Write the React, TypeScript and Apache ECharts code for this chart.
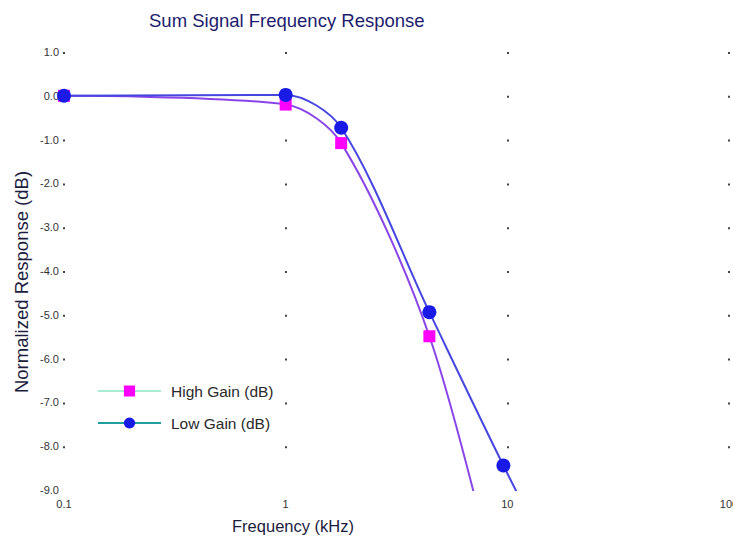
import React, { useEffect, useRef } from "react";
import * as echarts from "echarts";

const titleText = "Sum Signal Frequency Response";
const xAxisTitle = "Frequency (kHz)";
const yAxisTitle = "Normalized Response (dB)";
const seriesNames = ["High Gain (dB)", "Low Gain (dB)"];

const highGainFreq = [0.1, 1, 1.78, 4.45, 9.6];
const highGainDb = [0.0, -0.2, -1.08, -5.49, -11.8];

const lowGainFreq = [0.1, 1, 1.78, 4.45, 9.6, 20];
const lowGainDb = [0.0, 0.02, -0.73, -4.94, -8.44, -11.6];

const yMin = -9;
const yMax = 1;
const xMin = 0.1;
const xMax = 100;

export default function App() {
  const ref = useRef<HTMLDivElement>(null);

  useEffect(() => {
    if (!ref.current) return;
    const chart = echarts.init(ref.current, null, { renderer: "svg" });
    const font = "Liberation Sans, Arial, sans-serif";
    const highData = highGainFreq.map((f, i) => [f, highGainDb[i]]);
    const lowData = lowGainFreq.map((f, i) => [f, lowGainDb[i]]);
    chart.setOption({
      animation: false,
      backgroundColor: "#ffffff",
      textStyle: { fontFamily: font },
      title: {
        text: titleText,
        left: 144,
        top: 6,
        textStyle: { fontSize: 18.5, fontWeight: "normal", color: "#1c1c6e", fontFamily: font },
      },
      grid: {
        left: 64,
        right: 4,
        top: 52,
        bottom: 47,
        containLabel: false,
        outerBoundsMode: "none",
      },
      legend: {
        orient: "vertical",
        left: 92,
        top: 378,
        itemWidth: 63,
        itemHeight: 14,
        itemGap: 16,
        textStyle: { fontSize: 15.5, color: "#2a2a2a", fontFamily: font, padding: [0, 0, 0, 5] },
        data: [
          { name: seriesNames[0], lineStyle: { color: "#a8ecd4", width: 2 } },
          { name: seriesNames[1], lineStyle: { color: "#1f9e9e", width: 2 } },
        ],
      },
      xAxis: {
        type: "log",
        logBase: 10,
        min: xMin,
        max: xMax,
        axisLine: { show: false },
        axisTick: { show: false },
        axisLabel: {
          fontSize: 11,
          color: "#333",
          margin: 8,
          formatter: (v: number) => String(v),
        },
        splitLine: {
          show: true,
          lineStyle: { color: "#444", width: 2, type: [2, 41.8] },
        },
        minorTick: { show: false },
      },
      yAxis: {
        type: "value",
        min: yMin,
        max: yMax,
        interval: 1,
        axisLine: { show: false },
        axisTick: { show: false },
        axisLabel: {
          fontSize: 11,
          color: "#333",
          margin: 5,
          formatter: (v: number) => v.toFixed(1),
        },
        splitLine: { show: false },
      },
      graphic: [
        {
          type: "text",
          x: 293,
          y: 526,
          style: {
            text: xAxisTitle,
            fontSize: 16.5,
            fill: "#1c1c3e",
            fontFamily: font,
            align: "center",
            verticalAlign: "middle",
          },
        },
        {
          type: "text",
          x: 21,
          y: 282,
          rotation: Math.PI / 2,
          style: {
            text: yAxisTitle,
            fontSize: 18.5,
            fill: "#1c1c3e",
            fontFamily: font,
            align: "center",
            verticalAlign: "middle",
          },
        },
      ],
      series: [
        {
          name: seriesNames[0],
          type: "line",
          data: highData,
          smooth: 0.3,
          clip: true,
          symbol: "rect",
          symbolSize: 12,
          itemStyle: { color: "#ff00ff" },
          lineStyle: { color: "#8a45e8", width: 2 },
          z: 2,
        },
        {
          name: seriesNames[1],
          type: "line",
          data: lowData,
          smooth: 0.3,
          clip: true,
          symbol: "circle",
          symbolSize: 14,
          itemStyle: { color: "#1a1ae6" },
          lineStyle: { color: "#4646e0", width: 2 },
          z: 3,
        },
      ],
    });
    return () => chart.dispose();
  }, []);

  return (
    <div
      ref={ref}
      style={{ position: "fixed", left: 0, top: 0, width: 733, height: 537 }}
    />
  );
}
